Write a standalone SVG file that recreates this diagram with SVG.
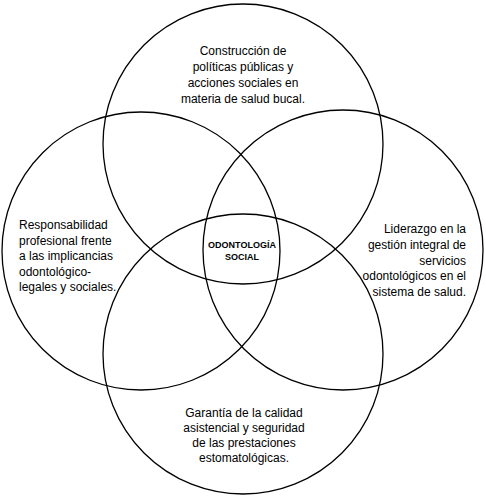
<svg xmlns="http://www.w3.org/2000/svg" width="486" height="498" viewBox="0 0 486 498">
<style>
.c{fill:none;stroke:#000;stroke-width:1.3}
.t{font-family:"Liberation Sans",Arial,sans-serif;font-size:12px;fill:#000}
.b{font-family:"Liberation Sans",Arial,sans-serif;font-size:9px;font-weight:bold;fill:#000}
</style>
<rect width="486" height="498" fill="#fff"/>
<g id="connectors"></g>
<g id="top">
<circle class="c" cx="243" cy="144" r="140"/>
<text class="t" text-anchor="middle"><tspan x="243" y="55">Construcción de</tspan><tspan x="243" y="71">políticas públicas y</tspan><tspan x="243" y="87">acciones sociales en</tspan><tspan x="243" y="103">materia de salud bucal.</tspan></text>
</g>
<g id="left">
<circle class="c" cx="141" cy="251" r="139"/>
<text class="t"><tspan x="19" y="229">Responsabilidad</tspan><tspan x="19" y="245">profesional frente</tspan><tspan x="19" y="260">a las implicancias</tspan><tspan x="19" y="276">odontológico-</tspan><tspan x="19" y="291">legales y sociales.</tspan></text>
</g>
<g id="right">
<circle class="c" cx="343" cy="250" r="140"/>
<text class="t" text-anchor="end"><tspan x="466" y="233">Liderazgo en la</tspan><tspan x="466" y="249">gestión integral de</tspan><tspan x="466" y="265">servicios</tspan><tspan x="466" y="280">odontológicos en el</tspan><tspan x="466" y="296">sistema de salud.</tspan></text>
</g>
<g id="bottom">
<circle class="c" cx="243" cy="354" r="140"/>
<text class="t" text-anchor="middle"><tspan x="244" y="417">Garantía de la calidad</tspan><tspan x="244" y="432">asistencial y seguridad</tspan><tspan x="244" y="447">de las prestaciones</tspan><tspan x="244" y="462">estomatológicas.</tspan></text>
</g>
<g id="center">
<text class="b" text-anchor="middle"><tspan x="242" y="248">ODONTOLOGÍA</tspan><tspan x="242" y="260">SOCIAL</tspan></text>
</g>
</svg>
